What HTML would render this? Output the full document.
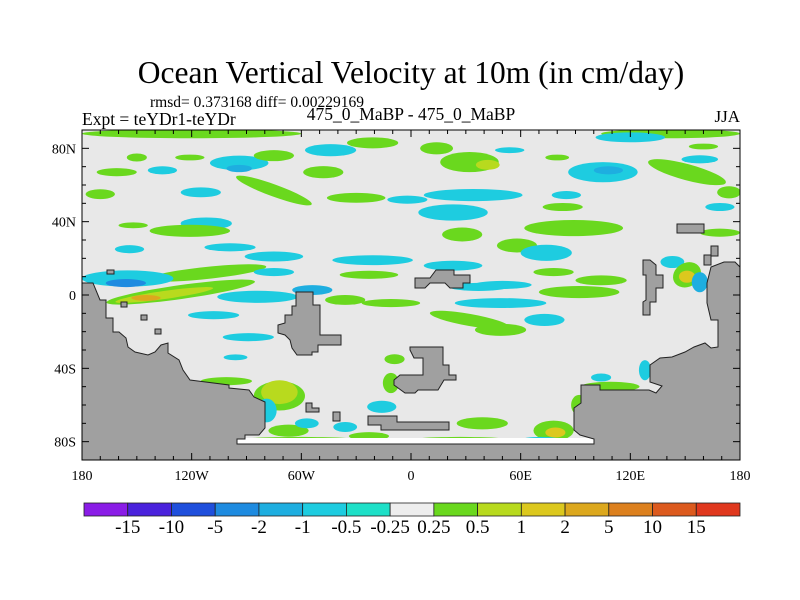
<!DOCTYPE html>
<html><head><meta charset="utf-8"><style>
html,body{margin:0;padding:0;background:#fff;}
svg{display:block;font-family:"Liberation Serif",serif;}
</style></head><body>
<svg id="c" width="800" height="600">
<text x="411" y="83" font-size="31.5" text-anchor="middle">Ocean Vertical Velocity at 10m (in cm/day)</text>
<text x="150" y="107" font-size="15.5">rmsd= 0.373168 diff= 0.00229169</text>
<text x="82" y="125" font-size="17.5">Expt = teYDr1-teYDr</text>
<text x="411" y="120" font-size="17.5" text-anchor="middle">475_0_MaBP - 475_0_MaBP</text>
<text x="740" y="122" font-size="17" text-anchor="end">JJA</text>
<clipPath id="mc"><rect x="82" y="130" width="658" height="330"/></clipPath>
<g id="map" clip-path="url(#mc)">
<rect x="82" y="130" width="658" height="330" fill="#e8e8e8"/>
</g>
<g id="land"></g>
<rect x="82" y="130" width="658" height="330" fill="none" stroke="#000" stroke-width="1"/>
<g id="axes"></g>
<g id="cbar"></g>
</svg>
<script>
const levelLabels=["-15","-10","-5","-2","-1","-0.5","-0.25","0.25","0.5","1","2","5","10","15"];
const levelColors=["#8a1ce6","#4a22dc","#1f4fdc","#1e8be0","#1eaee0","#1ecce0","#1ee0c8","#eeeeee","#6ad81e","#b8da1e","#dcc81e","#dca81e","#dc801e","#dc5a1e","#e0381e"];
const lonTicks=[-180,-120,-60,0,60,120,180];
const lonTickLabels=["180","120W","60W","0","60E","120E","180"];
const latTicks=[80,40,0,-40,-80];
const latTickLabels=["80N","40N","0","40S","80S"];
const pLon=[-120,142, -150,-121,-94,-94,-75,-44,-21,-161,-136,-48,-75,-115,-170,-30,-2,-112,-121,-152,-154,-99,-75,-21,-112,-155,-156,-126,-135,-145,-75,-54,
-23,-84,-108,-36,-11,49,37,92,104,32,49,73,-89,-57,-96,-9,-11,-101,-72,-72,-79,-67,-57,-36,-23,-16,39,78,79,128,109,104,92,-61,27,71,
32,42,14,54,80,120,160,105,108,151,158,174,34,85,83,23,89,28,58,74,23,169,169,143,151,151,158,78,50];
const pLat=[88,88, 75,75,72,69,76,79,83,67,68,67,57,56,55,53,52,39,35,38,25,26,21,19,12,9,6.5,1.6,0,-1.6,12.5,2.7,
11,-1,-11,-2.7,-4.4,-4.4,4.4,1.6,8,-13.6,-19,-13.6,-23,-28,-34,-35,-48,-47,-55,-53,-63,-74,-70,-72,-77,-61,-70,-74,-75,-41,-50,-45,-60,-79,-79,-79,
72.5,71,80,79,75,86,81,67,68,67,74,56,54.5,54.5,48,45,36.5,33,27,23,16,48,34,18,11,10,7,12.5,5.5];
const pDLon=[60,38, 5.5,8,16,7,11,14,14,11,8,11,22,11,8,16,11,14,22,8,8,14,16,22,33,25,11,41,27,8,11,11,
16,22,14,11,16,25,16,22,14,22,14,11,14,5.5,6.5,5.5,4.4,14,14,10,5.5,11,6.5,6.5,11,8,14,11,5.5,3.3,16,5.5,4.4,33,27,11,
16,6.5,9,8,6.5,19,8,19,8,22,10,6.5,27,8,11,19,27,11,11,14,16,8,11,6.5,8,4.4,4.4,11,16];
const pDLat=[2.5,2.5, 2.2,1.6,4,2,3,3.3,3,2.2,2.2,3.3,3.3,2.7,2.7,2.7,2.2,3.3,3.3,1.6,2.2,2.2,2.7,2.7,3.3,4.4,2.2,3.8,2.2,1.6,2.2,2.7,
2.2,3.3,2.2,2.7,2.2,2.7,2.2,3.3,2.7,3.3,3.3,3.3,2.2,2.2,1.6,2.7,5.5,2.2,8,6.5,6.5,3.3,2.7,2.7,2.2,3.3,3.3,5.5,2.7,5.5,2.7,2.2,5.5,1.6,1.6,1.6,
5.5,2.7,3.3,1.6,1.6,2.7,1.6,5.5,2.2,4.4,2.2,3.3,3.3,2.2,2.2,4.4,4.4,3.8,3.8,4.4,2.7,2.2,2.2,3.3,6.5,3.3,5.5,2.2,2.2];
const pLev=[8,8, 8,8,5,4,8,5,8,8,5,8,8,5,8,8,5,5,8,8,5,5,5,5,8,5,3,8,9,11,5,4,
8,5,5,8,8,5,5,8,8,8,8,5,5,8,5,8,8,8,8,9,5,8,5,5,8,5,8,8,10,5,8,5,8,8,8,5,
8,9,8,5,8,5,8,5,4,8,5,8,5,5,8,5,8,8,8,5,5,5,8,5,8,10,4,8,5];
const pRot=[0,0, 0,0,0,0,0,0,0,0,0,0,20,0,0,0,0,0,0,0,0,0,0,0,-6,0,0,-8,-8,0,0,0,
0,0,0,0,0,0,0,0,0,10,0,0,0,0,0,0,0,0,0,0,0,0,0,0,0,0,0,0,0,0,0,0,0,0,0,0,
0,0,0,0,0,0,0,0,0,15,0,0,0,0,0,0,0,0,0,0,0,0,0,0,-30,0,0,0,0];
const X0=82,X1=740,Y0=130,Y1=460;
const xOf=lon=>X0+(lon+180)/360*(X1-X0);
const yOf=lat=>Y0+(90-lat)/180*(Y1-Y0);
const NS="http://www.w3.org/2000/svg";
const map=document.getElementById('map');
for(let i=0;i<pLon.length;i++){
  const e=document.createElementNS(NS,'ellipse');
  const cx=xOf(pLon[i]),cy=yOf(pLat[i]);
  e.setAttribute('cx',cx);e.setAttribute('cy',cy);
  e.setAttribute('rx',pDLon[i]*(X1-X0)/360);e.setAttribute('ry',pDLat[i]*(Y1-Y0)/180);
  e.setAttribute('fill',levelColors[pLev[i]]);
  if(pRot[i])e.setAttribute('transform','rotate('+pRot[i]+' '+cx+' '+cy+')');
  
  
  map.appendChild(e);
}
const landPolys=[
"82,283 93,283 100,300 106,300 106,318 113,318 113,332 119,332 126,338 128,347 135,352 148,355 155,352 161,345 168,343 168,353 179,360 183,370 190,380 229,385 229,388 249,390 254,397 265,402 265,428 259,435 245,435 245,439 237,439 237,444 594,444 594,439 580,435 574,430 574,408 581,403 581,385 600,385 600,390 649,390 656,393 662,386 650,382 650,365 660,358 672,357 685,352 694,347 705,343 711,348 718,347 718,320 711,320 707,303 707,283 711,267 724,262 735,262 740,267 740,460 82,460",
"292,306 296,306 296,292 313,292 313,305 320,305 320,335 341,335 341,345 318,345 318,352 312,352 312,355 297,355 292,348 290,340 285,335 278,333 278,325 285,323 285,315 292,315",
"410,347 443,347 443,365 449,365 449,375 456,375 456,380 444,380 438,390 418,390 415,393 405,393 394,385 394,380 400,375 423,375 423,358 414,358 410,350",
"415,278 430,278 436,270 454,270 454,275 470,275 470,283 463,283 463,288 450,288 445,283 430,283 425,288 415,288",
"368,416 397,416 397,422 449,422 449,430 381,430 381,425 368,425",
"643,260 650,260 656,265 656,275 663,275 663,288 656,288 656,302 650,302 650,315 643,315 643,302 646,300 646,275 643,275",
"677,224 704,224 704,233 677,233","711,246 718,246 718,256 711,256","704,255 711,255 711,265 704,265",
"306,403 312,403 312,408 319,408 319,412 306,412","333,412 340,412 340,421 333,421",
"107,270 114,270 114,274 107,274","121,302 127,302 127,307 121,307","141,315 147,315 147,320 141,320","155,329 161,329 161,334 155,334"];
const land=document.getElementById('land');
const ws=document.createElementNS(NS,'rect');
ws.setAttribute('x',237);ws.setAttribute('y',438);ws.setAttribute('width',357);ws.setAttribute('height',6);ws.setAttribute('fill','#ffffff');


map.appendChild(ws);
landPolys.forEach(p=>{
  const g=document.createElementNS(NS,'polygon');
  g.setAttribute('points',p);g.setAttribute('fill','#a0a0a0');g.setAttribute('stroke','#222');g.setAttribute('stroke-width','1');
  
  
  land.appendChild(g);
});
const axes=document.getElementById('axes');
function line(x1,y1,x2,y2,n){const l=document.createElementNS(NS,'line');l.setAttribute('x1',x1);l.setAttribute('y1',y1);l.setAttribute('x2',x2);l.setAttribute('y2',y2);l.setAttribute('stroke','#000');


axes.appendChild(l);}
function text(x,y,s,a,n){const t=document.createElementNS(NS,'text');t.setAttribute('x',x);t.setAttribute('y',y);t.setAttribute('font-size','14');t.setAttribute('text-anchor',a);t.textContent=s;


axes.appendChild(t);}
for(let lon=-180;lon<=180;lon+=10){const x=xOf(lon),L=lon%60===0?7:4;line(x,Y0,x,Y0+L,'x-tick');line(x,Y1,x,Y1-L,'x-tick');}
for(let lat=-90;lat<=90;lat+=10){const y=yOf(lat),L=lat%40===0?7:4;line(X0,y,X0+L,y,'y-tick');line(X1,y,X1-L,y,'y-tick');}
lonTicks.forEach((v,i)=>text(xOf(v),480,lonTickLabels[i],'middle','x-tick-label'));
latTicks.forEach((v,i)=>text(X0-6,yOf(v)+5,latTickLabels[i],'end','y-tick-label'));
const cb=document.getElementById('cbar');
const cbX0=84,cbX1=740,cbY=503,cbH=13,bw=(cbX1-cbX0)/levelColors.length;
levelColors.forEach((c,i)=>{const r=document.createElementNS(NS,'rect');r.setAttribute('x',cbX0+i*bw);r.setAttribute('y',cbY);r.setAttribute('width',bw);r.setAttribute('height',cbH);r.setAttribute('fill',c);r.setAttribute('stroke','#222');r.setAttribute('stroke-width','0.8');


cb.appendChild(r);});
levelLabels.forEach((s,i)=>{const t=document.createElementNS(NS,'text');t.setAttribute('x',cbX0+(i+1)*bw);t.setAttribute('y',533);t.setAttribute('font-size','19');t.setAttribute('text-anchor','middle');t.textContent=s;


cb.appendChild(t);});
</script>
</body></html>
